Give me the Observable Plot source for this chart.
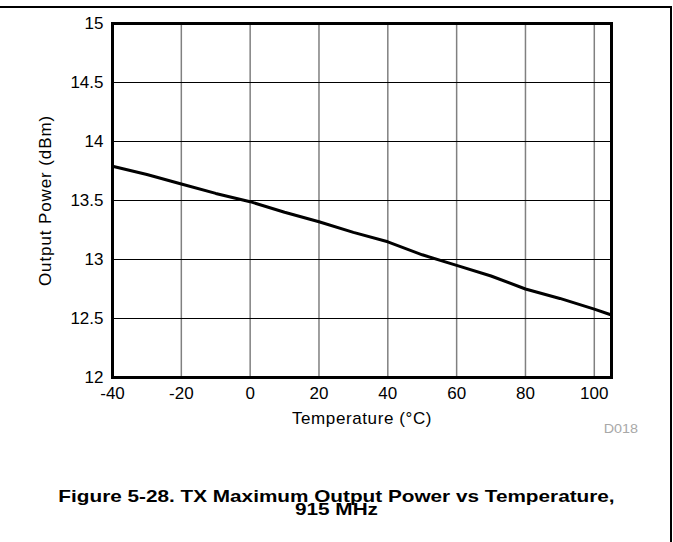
<!DOCTYPE html>
<html><head><meta charset="utf-8">
<script src="https://cdn.jsdelivr.net/npm/d3@7"></script>
<script src="https://cdn.jsdelivr.net/npm/@observablehq/plot@0.6"></script>
<style>
body{margin:0;background:#fff;font-family:"Liberation Sans",Arial,sans-serif;}
#wrap{position:relative;width:673px;height:542px;overflow:hidden;background:#fff;}
#frame{position:absolute;left:0;top:6px;width:670px;height:540px;border-top:2px solid #000;border-right:2px solid #000;}
#chart{position:absolute;left:0;top:0;}
#code{position:absolute;left:538px;width:100px;top:422px;text-align:right;font-size:12.5px;color:#a8a8a8;transform:scaleX(1.15);transform-origin:100% 50%;}
#caption{position:absolute;left:0;width:673px;top:490px;text-align:center;font-weight:bold;font-size:17px;line-height:13px;color:#000;transform:scaleX(1.22);transform-origin:50% 50%;}
</style></head>
<body>
<div id="wrap">
  <div id="frame"></div>
  <div id="chart"></div>
  <div id="code">D018</div>
  <div id="caption">Figure 5-28. TX Maximum Output Power vs Temperature,<br>915 MHz</div>
</div>
<script>
const temperature = [-40, -30, -20, -10, 0, 10, 20, 30, 40, 50, 60, 70, 80, 90, 100, 105];
const power = [13.79, 13.72, 13.64, 13.56, 13.49, 13.40, 13.32, 13.23, 13.15, 13.04, 12.95, 12.86, 12.75, 12.67, 12.58, 12.53];
const xTicks = [-40, -20, 0, 20, 40, 60, 80, 100];
const yTicks = [12, 12.5, 13, 13.5, 14, 14.5, 15];
const xLabel = "Temperature (°C)";
const yLabel = "Output Power (dBm)";

const data = temperature.map((t, i) => ({t, p: power[i]}));
const font = "'Liberation Sans', Arial, sans-serif";

const chart = Plot.plot({
  width: 673,
  height: 440,
  marginLeft: 112,
  marginRight: 62,
  marginTop: 23,
  marginBottom: 63,
  style: {fontFamily: font, fontSize: "17px", background: "transparent", color: "#000"},
  x: {domain: [-40, 105]},
  y: {domain: [12, 15]},
  marks: [
    Plot.ruleX(xTicks, {stroke: "#808080", strokeWidth: 1.5}),
    Plot.ruleY(yTicks, {stroke: "#000", strokeWidth: 1}),
    Plot.line(data, {x: "t", y: "p", stroke: "#000", strokeWidth: 3}),
    Plot.frame({stroke: "#000", strokeWidth: 3}),
    Plot.axisX(xTicks, {tickSize: 0, tickPadding: 9, label: null, fontSize: 17, tickFormat: d => String(d), fill: "#000"}),
    Plot.axisY(yTicks, {tickSize: 0, tickPadding: 9, label: null, fontSize: 17, tickFormat: d => String(d), fill: "#000"}),
    Plot.text([xLabel], {text: d => d, frameAnchor: "bottom", lineAnchor: "middle", textAnchor: "middle", dy: 41, fontSize: 17, fill: "#000"}),
    Plot.text([yLabel], {text: d => d, frameAnchor: "left", lineAnchor: "middle", textAnchor: "middle", dx: -67, rotate: -90, fontSize: 17, fill: "#000"})
  ]
});
// the reference's axis titles are set a little wider than Arial
chart.querySelectorAll("text").forEach(el => {
  if (el.textContent === xLabel) el.style.letterSpacing = "0.6px";
  if (el.textContent === yLabel) el.style.letterSpacing = "0.9px";
});
document.getElementById("chart").appendChild(chart);
</script>
</body></html>
